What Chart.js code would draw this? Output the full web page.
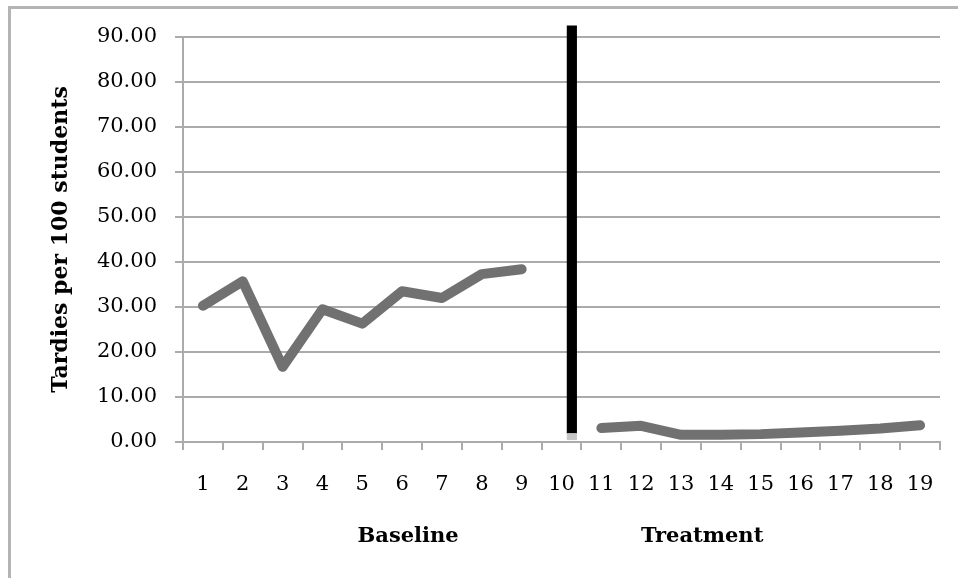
<!DOCTYPE html>
<html>
<head>
<meta charset="utf-8">
<script src="https://cdn.jsdelivr.net/npm/chart.js@4/dist/chart.umd.min.js"></script>
<style>
  html, body { margin: 0; padding: 0; background: #fff; }
  #wrap { position: relative; width: 958px; height: 578px; overflow: hidden; }
  #frame { position: absolute; left: 8px; top: 6px; width: 1000px; height: 1000px;
           border-left: 3px solid #b4b4b4; border-top: 3px solid #b4b4b4; }
  canvas { position: absolute; left: 0; top: 0; }
</style>
</head>
<body>
<div id="wrap">
  <div id="frame"></div>
  <canvas id="chart" width="958" height="578"></canvas>
</div>
<script>
// Sessions (x axis categories)
const sessions = ['1','2','3','4','5','6','7','8','9','10','11','12','13','14','15','16','17','18','19'];

// Tardies per 100 students, by phase
const baselineRates  = [30.3, 35.7, 16.7, 29.5, 26.3, 33.5, 32.0, 37.3, 38.4,
                        null, null, null, null, null, null, null, null, null, null];
const treatmentRates = [null, null, null, null, null, null, null, null, null, null,
                        3.1, 3.6, 1.6, 1.6, 1.75, 2.1, 2.5, 3.0, 3.7];

// Phase-change line (session position and its vertical extent)
const phaseChangeSession = 10.26;
const phaseLineBase = [0.5, 1.9];
const phaseLineTop = 92.5;

// Y axis range
const yMin = 0, yMax = 90, yStep = 10;

// Phase names written under the axis, placed by session index
const phaseNames = ['Baseline', 'Treatment'];
const phaseNameAt = [5.15, 12.53];

const FONT = "'DejaVu Serif', 'Liberation Serif', serif";
const GRID = '#ababab';
const LINE = '#717171';

const phaseNamesPlugin = {
  id: 'phaseNames',
  afterDraw(chart) {
    const ctx = chart.ctx;
    const xs = chart.scales.x;
    ctx.save();
    ctx.font = 'bold 21px ' + FONT;
    ctx.fillStyle = '#000';
    ctx.textAlign = 'center';
    ctx.textBaseline = 'middle';
    phaseNames.forEach((name, i) => {
      ctx.fillText(name, xs.getPixelForValue(phaseNameAt[i]), 537);
    });
    ctx.restore();
  }
};

new Chart(document.getElementById('chart'), {
  type: 'line',
  data: {
    labels: sessions,
    datasets: [
      {
        label: 'Baseline',
        data: baselineRates,
        borderColor: LINE,
        borderWidth: 10,
        borderCapStyle: 'round',
        borderJoinStyle: 'round',
        pointRadius: 0,
        tension: 0,
        spanGaps: false
      },
      {
        label: 'Treatment',
        data: treatmentRates,
        borderColor: LINE,
        borderWidth: 10,
        borderCapStyle: 'round',
        borderJoinStyle: 'round',
        pointRadius: 0,
        tension: 0,
        spanGaps: false
      },
      {
        type: 'bar',
        label: 'Phase change base',
        xAxisID: 'xPhase',
        data: [{ x: phaseChangeSession, y: phaseLineBase }],
        backgroundColor: '#c6c6c6',
        barThickness: 9.5,
        grouped: false,
        clip: false
      },
      {
        type: 'bar',
        label: 'Phase change',
        xAxisID: 'xPhase',
        data: [{ x: phaseChangeSession, y: [phaseLineBase[1], phaseLineTop] }],
        backgroundColor: '#000',
        barThickness: 9.5,
        grouped: false,
        clip: false
      }
    ]
  },
  options: {
    responsive: false,
    animation: false,
    devicePixelRatio: 1,
    layout: { padding: { top: 37, right: 18, left: 0, bottom: 0 } },
    plugins: {
      legend: { display: false },
      tooltip: { enabled: false }
    },
    scales: {
      x: {
        type: 'category',
        offset: true,
        grid: {
          offset: true,
          drawOnChartArea: false,
          drawTicks: true,
          tickLength: 8,
          color: GRID,
          lineWidth: 2
        },
        border: { display: true, color: GRID, width: 2 },
        ticks: {
          font: { family: FONT, size: 21 },
          color: '#000',
          padding: 22,
          maxRotation: 0,
          autoSkip: false
        },
        afterFit(scale) { scale.height = 136; }
      },
      xPhase: {
        type: 'linear',
        display: false,
        offset: false,
        min: 0.5,
        max: 19.5
      },
      y: {
        min: yMin,
        max: yMax,
        beginAtZero: true,
        ticks: {
          stepSize: yStep,
          font: { family: FONT, size: 21 },
          color: '#000',
          padding: 18,
          callback: v => Number(v).toFixed(2)
        },
        grid: {
          color: GRID,
          lineWidth: 2,
          tickLength: 8,
          drawTicks: true
        },
        border: { display: true, color: GRID, width: 2 },
        title: {
          display: true,
          text: 'Tardies per 100 students',
          font: { family: FONT, size: 22, weight: 'bold' },
          color: '#000',
          padding: { top: 48, bottom: 0 }
        },
        afterFit(scale) { scale.width = 183; }
      }
    }
  },
  plugins: [phaseNamesPlugin]
});
</script>
</body>
</html>
